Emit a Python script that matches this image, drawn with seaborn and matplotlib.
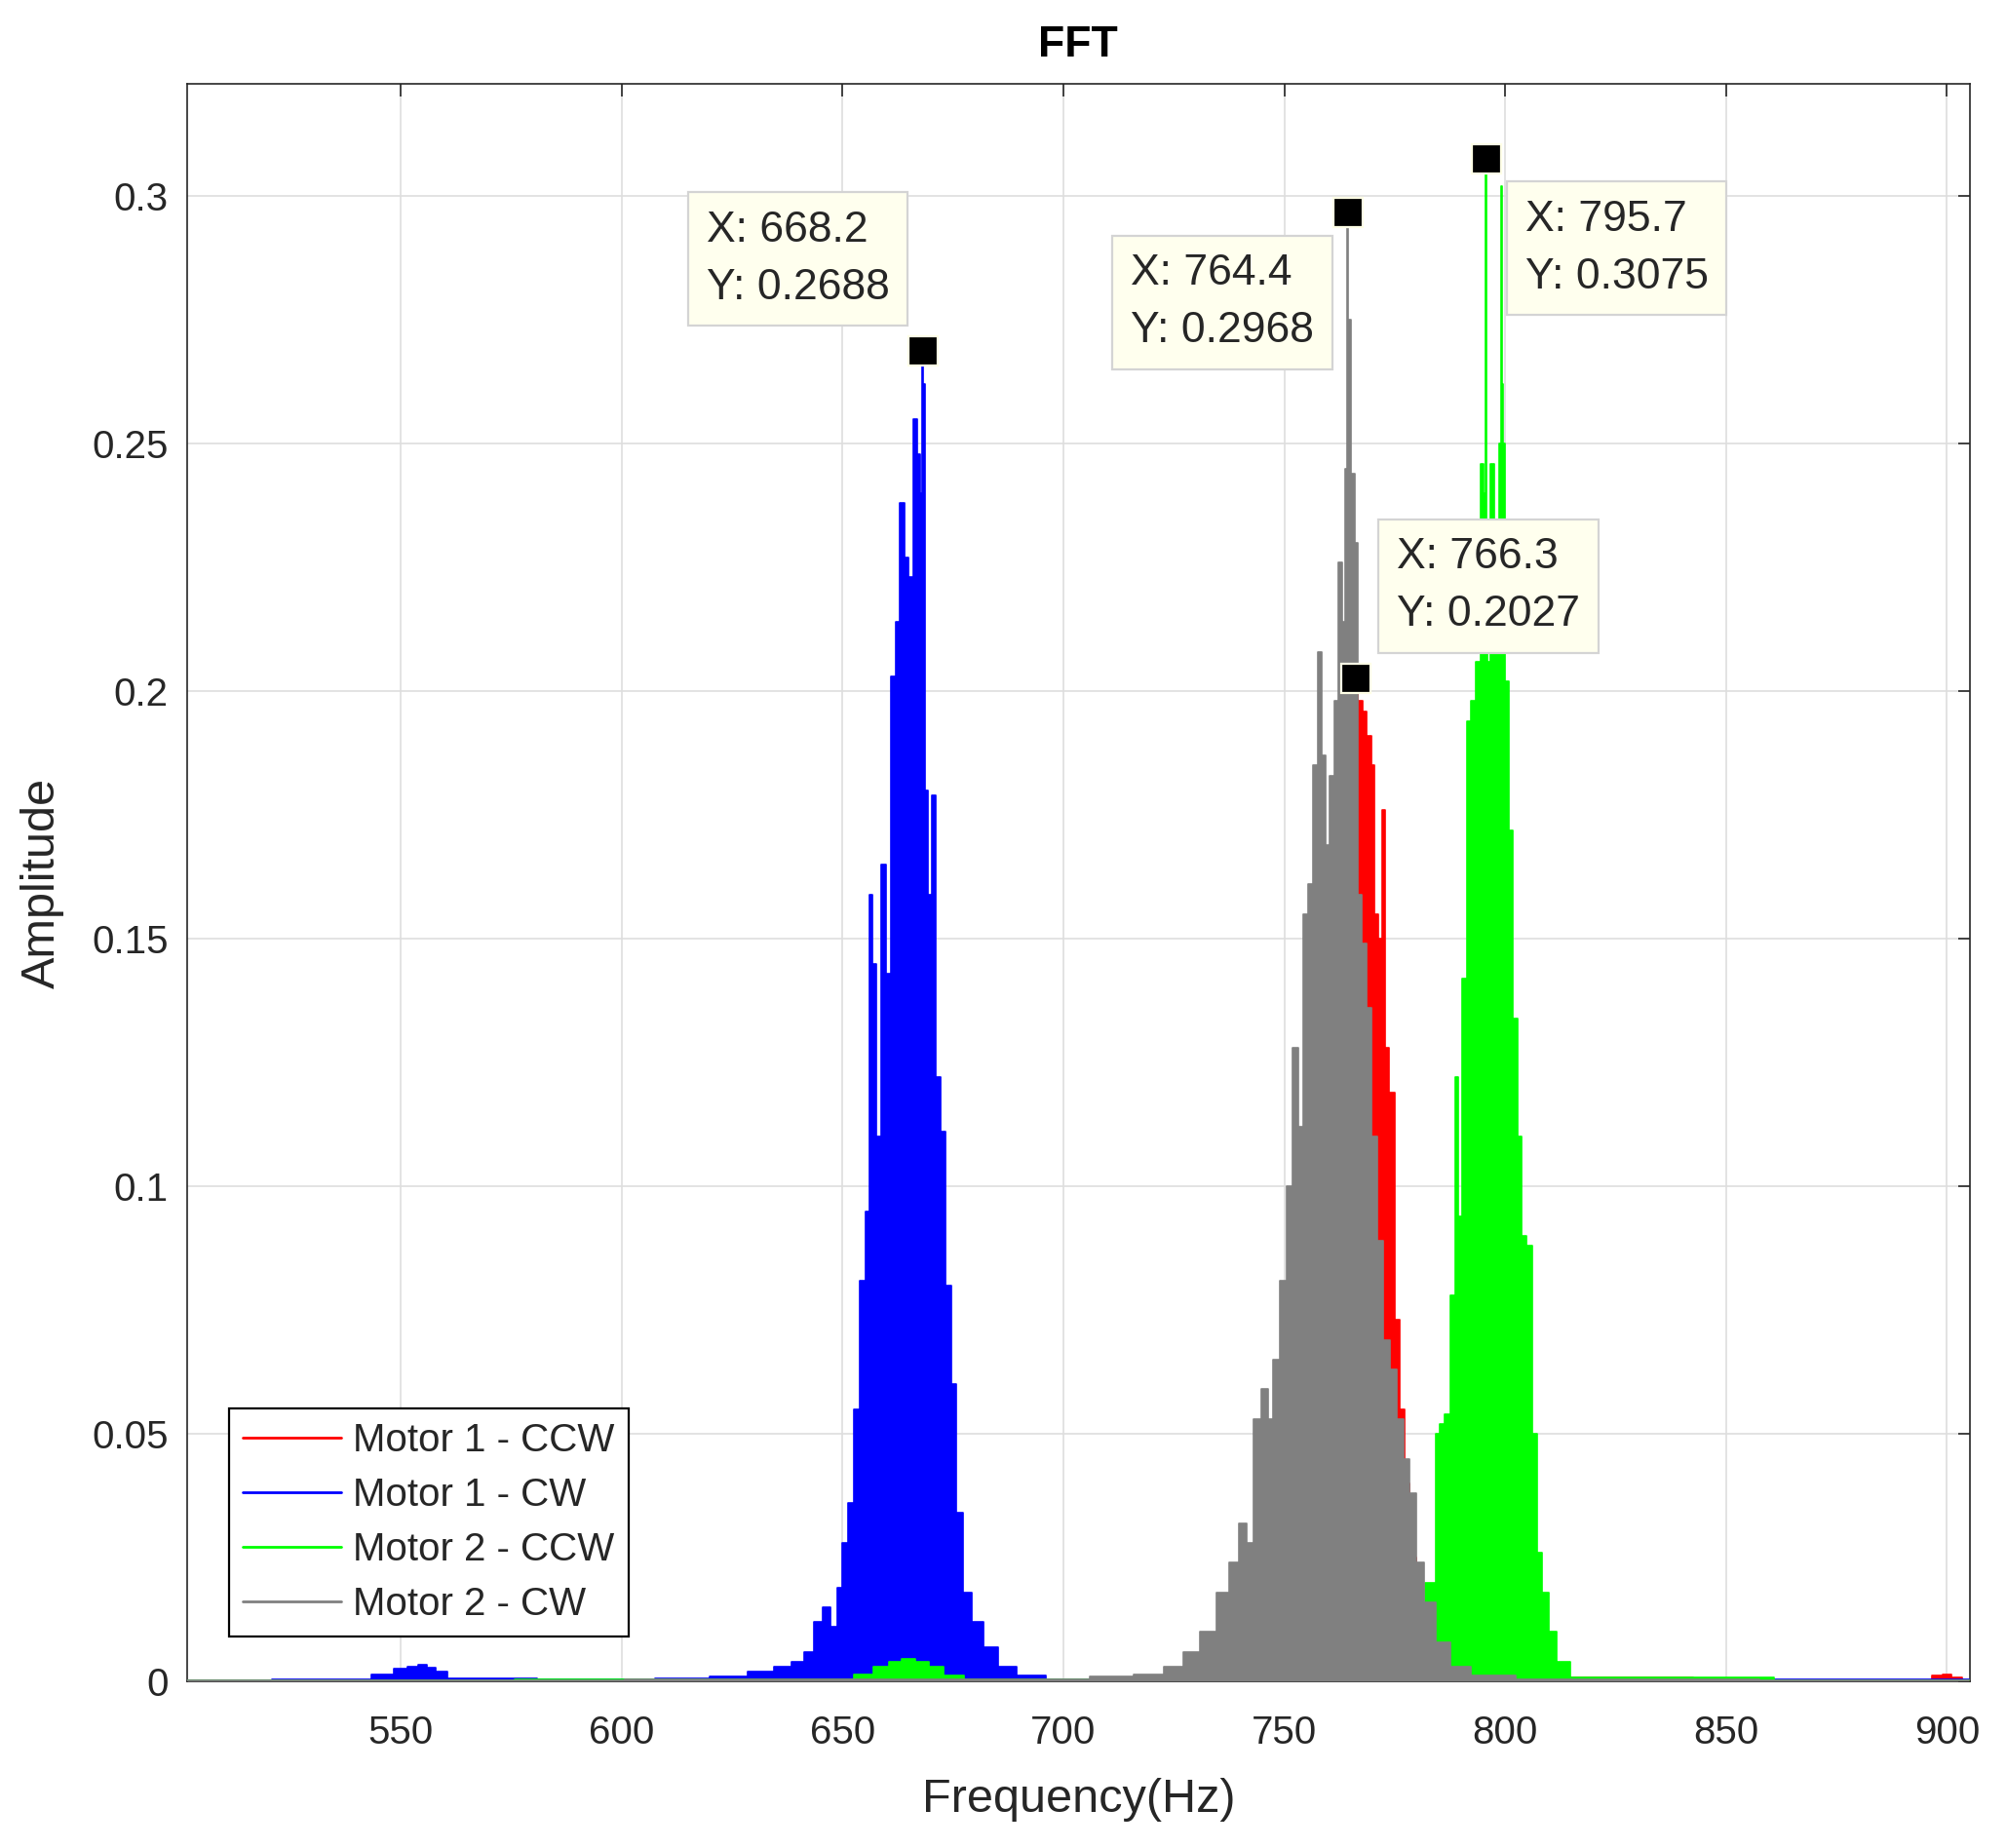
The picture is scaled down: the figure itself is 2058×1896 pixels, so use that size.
import matplotlib
matplotlib.use("Agg")
import matplotlib.pyplot as plt
import seaborn as sns
import pandas as pd

# ---------------------------------------------------
# Data (frequency in Hz, amplitude)
# ---------------------------------------------------
series_names = ["Motor 1 - CCW", "Motor 1 - CW", "Motor 2 - CCW", "Motor 2 - CW"]
series_colors = ["#ff0000", "#0000ff", "#00ff00", "#808080"]

freq_m1_ccw = [501.7, 730, 740, 745, 750, 754, 757, 759, 760.5, 762, 763.5, 765,
               766.3, 767.2, 768.1, 769.3, 770.2, 770.8, 771.7, 772.5, 773.2, 774.4,
               775.5, 776.6, 777.7, 779, 781, 784, 790, 895, 898, 900, 902, 905]
amp_m1_ccw = [0.0003, 0.0004, 0.002, 0.004, 0.008, 0.012, 0.018, 0.022, 0.05, 0.1, 0.15, 0.185,
              0.2027, 0.198, 0.196, 0.191, 0.185, 0.155, 0.150, 0.176, 0.128, 0.119,
              0.073, 0.055, 0.040, 0.025, 0.010, 0.004, 0.0008, 0.0003, 0.0012, 0.0015, 0.0008, 0.0003]

freq_m1_cw = [501.7, 540, 547, 550, 553, 555, 557, 559, 562, 600, 615, 625, 632, 637, 640,
              642.5, 644.5, 646.5, 648, 649.5, 650.6, 652.1, 653.2, 654.7, 655.8, 656.5,
              657.2, 658.3, 659.4, 660.5, 661.6, 662.6, 663.5, 664.6, 665.5, 666.4, 667.4,
              668.0, 668.2, 668.4, 668.8, 669.8, 670.7, 671.6, 672.7, 673.8, 675.3, 676.4,
              678.2, 680.4, 683.3, 687.0, 692, 700, 760, 770, 778, 782, 905]
amp_m1_cw = [0.0003, 0.0004, 0.0015, 0.0025, 0.003, 0.0033, 0.0028, 0.002, 0.0006, 0.0004,
             0.0006, 0.001, 0.002, 0.003, 0.004, 0.006, 0.012, 0.015, 0.011, 0.019, 0.028,
             0.036, 0.055, 0.081, 0.095, 0.159, 0.145, 0.110, 0.165, 0.143, 0.203, 0.214,
             0.238, 0.227, 0.223, 0.255, 0.248, 0.240, 0.2688, 0.262, 0.180, 0.159, 0.179,
             0.122, 0.111, 0.080, 0.060, 0.034, 0.018, 0.012, 0.007, 0.003, 0.0012, 0.0005,
             0.0006, 0.0012, 0.0018, 0.0005, 0.0004]

freq_m2_ccw = [501.7, 650, 655, 659, 662, 665, 668, 671, 675, 680, 740, 760,
               775, 780, 783.8, 784.9, 785.6, 787.1, 788.2, 789.1, 789.7, 790.8, 791.9,
               792.8, 793.9, 794.8, 795.5, 795.7, 795.9, 796.3, 797.2, 798.1, 799.0, 799.2,
               799.4, 799.8, 800.3, 801.4, 802.2, 803.3, 804.2, 805.6, 806.6, 807.7, 809.2,
               810.6, 812.8, 816.5, 905]
amp_m2_ccw = [0.0003, 0.0004, 0.0015, 0.003, 0.004, 0.0045, 0.004,
              0.003, 0.0012, 0.0004, 0.0004, 0.0008, 0.0012, 0.002, 0.02, 0.05, 0.052, 0.054,
              0.078, 0.122, 0.094, 0.142, 0.194, 0.198, 0.206, 0.246, 0.240, 0.3075, 0.210,
              0.206, 0.246, 0.230, 0.250, 0.302, 0.262, 0.250, 0.202, 0.172, 0.134, 0.110,
              0.090, 0.088, 0.050, 0.026, 0.018, 0.010, 0.004, 0.0008, 0.0003]

freq_m2_cw = [501.7, 700, 712, 720, 725.4, 729.1, 732.8, 736.5, 738.7, 740.9, 742.3, 743.8,
              745.7, 746.8, 748.2, 749.7, 751.2, 752.6, 753.7, 754.9, 756.0, 757.1, 758.2,
              758.9, 760.0, 760.7, 761.8, 762.6, 763.5, 764.2, 764.4, 764.6, 765.5, 766.3,
              767.0, 768.1, 769.2, 770.3, 771.8, 773.2, 774.7, 776.2, 777.7, 779.1, 780.6,
              782.8, 785.8, 789.4, 795, 810, 905]
amp_m2_cw = [0.0003, 0.0004, 0.001, 0.0015, 0.003, 0.006, 0.010, 0.018, 0.024, 0.032, 0.028,
             0.053, 0.059, 0.053, 0.065, 0.081, 0.100, 0.128, 0.112, 0.155, 0.161, 0.185,
             0.208, 0.187, 0.169, 0.183, 0.198, 0.226, 0.214, 0.245, 0.2968, 0.275, 0.244,
             0.230, 0.159, 0.149, 0.136, 0.110, 0.089, 0.069, 0.063, 0.053, 0.045, 0.038,
             0.024, 0.016, 0.008, 0.003, 0.0012, 0.0004, 0.0003]

# data tips shown on the chart
tip_x = [668.2, 764.4, 795.7, 766.3]
tip_y = [0.2688, 0.2968, 0.3075, 0.2027]

x_ticks = [550, 600, 650, 700, 750, 800, 850, 900]
y_ticks = [0, 0.05, 0.1, 0.15, 0.2, 0.25, 0.3]
y_tick_labels = ["0", "0.05", "0.1", "0.15", "0.2", "0.25", "0.3"]

# ---------------------------------------------------
# Styling
# ---------------------------------------------------
sns.set_theme(style="white")
plt.rcParams["font.family"] = ["Liberation Sans", "DejaVu Sans"]
text_col = (0.15, 0.15, 0.15)

fig = plt.figure(figsize=(10.29, 9.48), dpi=200)
ax = fig.add_axes([0.0933, 0.0901, 0.8885, 0.8645])

all_series = [
    (freq_m1_ccw, amp_m1_ccw),
    (freq_m1_cw, amp_m1_cw),
    (freq_m2_ccw, amp_m2_ccw),
    (freq_m2_cw, amp_m2_cw),
]

for i, (name, col, (f, a)) in enumerate(zip(series_names, series_colors, all_series)):
    df = pd.DataFrame({"Frequency": f, "Amplitude": a})
    z = 3 + i
    ax.fill_between(df["Frequency"], 0, df["Amplitude"], step="mid",
                    color=col, lw=0, zorder=z)
    sns.lineplot(data=df, x="Frequency", y="Amplitude", ax=ax, color=col,
                 linewidth=0.6, drawstyle="steps-mid", label=name, zorder=z,
                 estimator=None, sort=False)

# data tip markers and boxes
ax.plot(tip_x, tip_y, linestyle="none", marker="s", markersize=11,
        markerfacecolor="black", markeredgecolor="#ffffe6", markeredgewidth=0.8,
        zorder=20)
box_centers = [(639.9, 0.2873), (736.0, 0.2786), (825.3, 0.2895), (796.2, 0.2213)]
for tx, ty, (bx, by) in zip(tip_x, tip_y, box_centers):
    ax.text(bx, by, f"X: {tx}\nY: {ty}", ha="center", va="center",
            multialignment="left", fontsize=16, color=text_col, linespacing=1.55,
            zorder=21,
            bbox=dict(boxstyle="square,pad=0.42", fc="#ffffee", ec="#d4d4d4", lw=0.8))

ax.set_xlim(501.7, 905.1)
ax.set_ylim(0, 0.3227)
ax.set_xticks(x_ticks)
ax.set_yticks(y_ticks)
ax.set_yticklabels(y_tick_labels)
ax.grid(True, color="#dedede", linewidth=0.6)
ax.set_axisbelow(True)

ax.tick_params(axis="both", direction="in", length=4.5, width=0.6, colors=text_col,
               labelsize=14.5, top=True, right=True)
ax.tick_params(axis="x", pad=12)
ax.tick_params(axis="y", pad=7)
for sp in ax.spines.values():
    sp.set_color(text_col)
    sp.set_linewidth(0.6)

ax.set_title("FFT", fontsize=16, fontweight="bold", color="black", pad=10)
ax.set_xlabel("Frequency(Hz)", fontsize=17.5, color=text_col, labelpad=10)
ax.set_ylabel("Amplitude", fontsize=17.5, color=text_col, labelpad=10)

leg = ax.legend(loc="lower left", bbox_to_anchor=(0.0237, 0.028), borderaxespad=0,
                fontsize=14.5, frameon=True, fancybox=False, framealpha=1,
                edgecolor="black", handlelength=2.5, handletextpad=0.3,
                labelspacing=0.45, borderpad=0.35)
leg.get_frame().set_linewidth(0.8)
leg.set_zorder(30)
for h in leg.get_lines():
    h.set_linewidth(1.0)
for t in leg.get_texts():
    t.set_color(text_col)

fig.savefig("out.png", dpi=200)
